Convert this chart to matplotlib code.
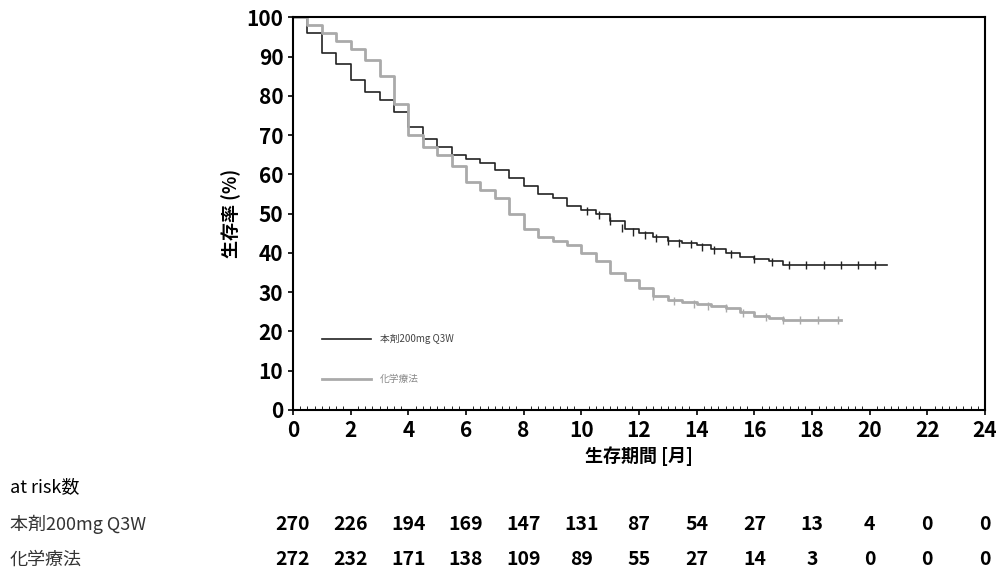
import matplotlib.pyplot as plt
import numpy as np

plt.rcParams['font.family'] = ['Noto Sans CJK JP', 'DejaVu Sans']

# KM estimates (months, %)
t_drug = [0, 0.5, 1, 1.5, 2, 2.5, 3, 3.5, 4, 4.5, 5, 5.5, 6, 6.5, 7, 7.5, 8, 8.5, 9, 9.5, 10,
          10.5, 11, 11.5, 12, 12.5, 13, 13.5, 14, 14.5, 15, 15.5, 16, 16.5, 17, 18, 19, 20, 20.6]
s_drug = [100, 96, 91, 88, 84, 81, 79, 76, 72, 69, 67, 65, 64, 63, 61, 59, 57, 55, 54, 52, 51,
          50, 48, 46, 45, 44, 43, 42.5, 42, 41, 40, 39, 38.5, 38, 37, 37, 37, 37, 37]
t_chemo = [0, 0.5, 1, 1.5, 2, 2.5, 3, 3.5, 4, 4.5, 5, 5.5, 6, 6.5, 7, 7.5, 8, 8.5, 9, 9.5, 10,
           10.5, 11, 11.5, 12, 12.5, 13, 13.5, 14, 14.5, 15, 15.5, 16, 16.5, 17, 18, 19]
s_chemo = [100, 98, 96, 94, 92, 89, 85, 78, 70, 67, 65, 62, 58, 56, 54, 50, 46, 44, 43, 42, 40,
           38, 35, 33, 31, 29, 28, 27.5, 27, 26.5, 26, 25, 24, 23.5, 23, 23, 23]
cens_drug = [10.2, 10.6, 11.0, 11.4, 11.8, 12.2, 12.6, 13.0, 13.4, 13.8, 14.2, 14.6, 15.2, 16.0,
             16.6, 17.2, 17.8, 18.4, 19.0, 19.6, 20.2]
cens_chemo = [12.5, 13.2, 13.9, 14.4, 15.0, 15.6, 16.4, 17.0, 17.6, 18.2, 18.9]

risk_times = list(range(0, 25, 2))
risk_drug = [270, 226, 194, 169, 147, 131, 87, 54, 27, 13, 4, 0, 0]
risk_chemo = [272, 232, 171, 138, 109, 89, 55, 27, 14, 3, 0, 0, 0]

fig = plt.figure(figsize=(10, 5.75), dpi=100)
ax = fig.add_axes([0.293, 0.287, 0.692, 0.683])

ax.step(t_drug, s_drug, where='post', color='#222222', lw=1.2)
ax.step(t_chemo, s_chemo, where='post', color='#aaaaaa', lw=2)
ax.plot(cens_drug, np.interp(cens_drug, t_drug, s_drug), ls='none', marker='|', color='#222222', ms=6)
ax.plot(cens_chemo, np.interp(cens_chemo, t_chemo, s_chemo), ls='none', marker='|', color='#aaaaaa', ms=6)

ax.plot([1.0, 2.7], [18, 18], color='#222222', lw=1.2)
ax.text(3.0, 18, '本剤200mg Q3W', fontsize=7, va='center', color='#444444')
ax.plot([1.0, 2.7], [8, 8], color='#aaaaaa', lw=2)
ax.text(3.0, 8, '化学療法', fontsize=7, va='center', color='#888888')

ax.set_xlim(0, 24)
ax.set_ylim(0, 100)
ax.set_xticks(risk_times)
ax.set_yticks(range(0, 101, 10))
ax.set_xticks(np.arange(0, 24.01, 0.25), minor=True)
ax.tick_params(labelsize=15, width=1.2)
ax.tick_params(axis='x', which='minor', direction='in', length=3)
for lab in ax.get_xticklabels() + ax.get_yticklabels():
    lab.set_fontweight('bold')
ax.set_ylabel('生存率 (%)', fontsize=13, fontweight='bold')
ax.set_xlabel('生存期間 [月]', fontsize=13, fontweight='bold')
for s in ax.spines.values():
    s.set_linewidth(1.5)

fig.text(0.01, 0.145, 'at risk数', fontsize=13)
fig.text(0.01, 0.078, '本剤200mg Q3W', fontsize=13, color='#333333')
fig.text(0.01, 0.018, '化学療法', fontsize=13, color='#333333')
for t, a, b in zip(risk_times, risk_drug, risk_chemo):
    x = 0.293 + 0.692 * t / 24
    fig.text(x, 0.078, str(a), fontsize=14, ha='center', fontweight='bold')
    fig.text(x, 0.018, str(b), fontsize=14, ha='center', fontweight='bold')

fig.savefig('out.png')
